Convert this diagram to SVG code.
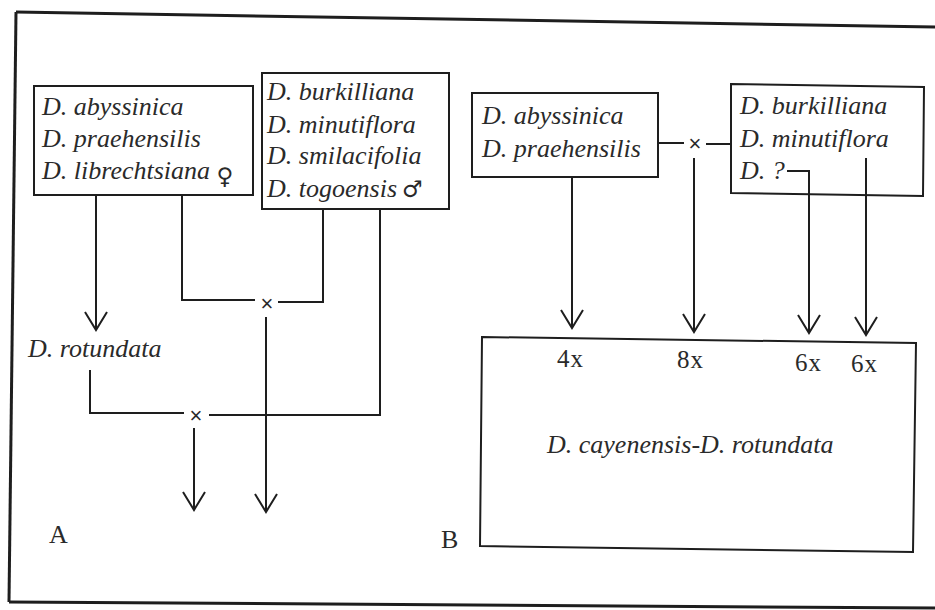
<svg xmlns="http://www.w3.org/2000/svg" width="935" height="610" viewBox="0 0 935 610">
<defs>
<style>
.box{fill:none;stroke:#1e1e1e;stroke-width:2}
.ln{fill:none;stroke:#1e1e1e;stroke-width:2}
.sp{font-family:"Liberation Serif",serif;font-style:italic;font-size:26px;fill:#2a2a2a}
.num{font-family:"Liberation Serif",serif;font-size:25px;letter-spacing:1px;fill:#2a2a2a}
.lab{font-family:"Liberation Serif",serif;font-size:26px;fill:#2a2a2a}
.x{font-family:"Liberation Sans",sans-serif;font-size:22px;fill:#2a2a2a;text-anchor:middle}
.sym{font-family:"DejaVu Sans",sans-serif;font-style:normal}
</style>
<marker id="ah" viewBox="-20 -13 22 26" refX="0" refY="0" markerWidth="22" markerHeight="26" markerUnits="userSpaceOnUse" orient="auto">
<path d="M-18,-11 L0,0 L-18,11" fill="none" stroke="#1e1e1e" stroke-width="2"/>
</marker>
</defs>
<rect width="935" height="610" fill="#ffffff"/>
<g id="frame">
<path d="M16,12 L935,27" fill="none" stroke="#1e1e1e" stroke-width="3"/>
<path d="M16,12 L9,602" fill="none" stroke="#1e1e1e" stroke-width="3"/>
<path d="M9,602 L935,608" fill="none" stroke="#1e1e1e" stroke-width="3"/>
</g>
<g id="connectors">
<path class="ln" d="M96,195 V330" marker-end="url(#ah)"/>
<path class="ln" d="M182,195 V300 H255"/>
<path class="ln" d="M278,302 H323 V209"/>
<path class="ln" d="M266,317 V512" marker-end="url(#ah)"/>
<path class="ln" d="M90,370 V413 H184"/>
<path class="ln" d="M209,415 H380 V209"/>
<path class="ln" d="M194,428 V510" marker-end="url(#ah)"/>
<path class="ln" d="M658,143 H684"/>
<path class="ln" d="M706,144 H731"/>
<path class="ln" d="M572,177 V328" marker-end="url(#ah)"/>
<path class="ln" d="M694,158 V332" marker-end="url(#ah)"/>
<path class="ln" d="M787,171 H809 V333" marker-end="url(#ah)"/>
<path class="ln" d="M866,158 V335" marker-end="url(#ah)"/>
<text class="x" x="267" y="311">×</text>
<text class="x" x="196" y="423">×</text>
<text class="x" x="695" y="151">×</text>
</g>
<g id="boxA1">
<rect class="box" x="34" y="86" width="219" height="109"/>
<text class="sp" x="42" y="115">D. abyssinica</text>
<text class="sp" x="42" y="147">D. praehensilis</text>
<text class="sp" x="42" y="179">D. librechtsiana <tspan class="sym" font-size="23" dy="5">♀</tspan></text>
</g>
<g id="boxA2">
<rect class="box" x="262" y="73" width="187" height="136"/>
<text class="sp" x="267" y="100">D. burkilliana</text>
<text class="sp" x="267" y="133">D. minutiflora</text>
<text class="sp" x="267" y="164">D. smilacifolia</text>
<text class="sp" x="267" y="197">D. togoensis<tspan class="sym" font-size="23" dx="5">♂</tspan></text>
</g>
<g id="rotundata">
<text class="sp" x="28" y="357">D. rotundata</text>
</g>
<g id="labelA"><text class="lab" x="49" y="543">A</text></g>
<g id="labelB"><text class="lab" x="441" y="548">B</text></g>
<g id="boxB1">
<rect class="box" x="472" y="93" width="186" height="84"/>
<text class="sp" x="482" y="124">D. abyssinica</text>
<text class="sp" x="482" y="157">D. praehensilis</text>
</g>
<g id="boxB2">
<path class="box" d="M731,84 L924,87 L923,196 L731,193 Z"/>
<text class="sp" x="740" y="114">D. burkilliana</text>
<text class="sp" x="740" y="147">D. minutiflora</text>
<text class="sp" x="740" y="179">D. ?</text>
</g>
<g id="boxB3">
<path class="box" d="M482,337 L916,343 L913,552 L480,546 Z"/>
<text class="num" x="557" y="367">4x</text>
<text class="num" x="677" y="368">8x</text>
<text class="num" x="795" y="371">6x</text>
<text class="num" x="851" y="372">6x</text>
<text class="sp" x="547" y="453">D. cayenensis-D. rotundata</text>
</g>
</svg>
